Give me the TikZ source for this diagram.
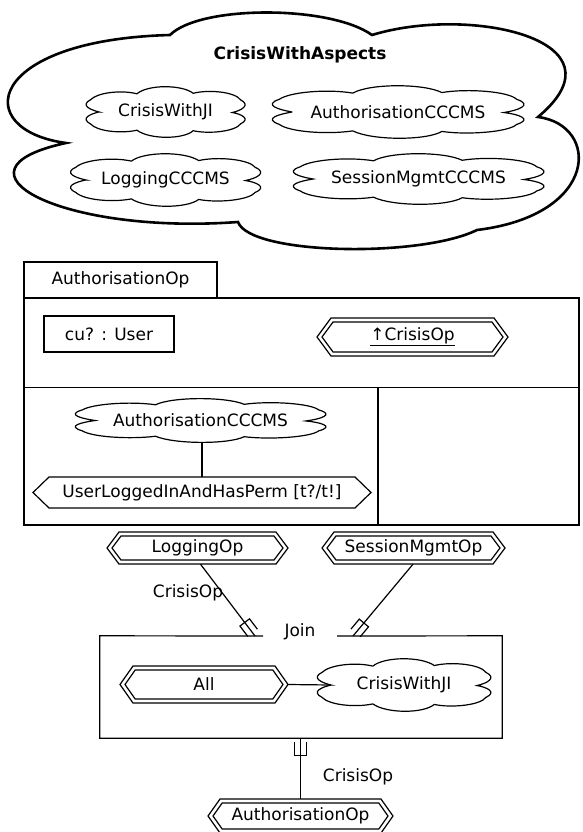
\documentclass[tikz,border=0pt]{standalone}
\usepackage{fontspec}
\setmainfont{DejaVu Sans}
\usetikzlibrary{calc}

% cloud outline around a named node: node, half width, half height
\newcommand\cloudat[3]{\draw[cloudline,shift={(#1.center)},xscale=#2,yscale=#3]
 (-0.82,0) .. controls (-0.92,0.08) and (-1.05,0.24) .. (-0.92,0.46)
 .. controls (-0.84,0.74) and (-0.55,0.84) .. (-0.35,0.7)
 .. controls (-0.2,1.06) and (0.22,1.06) .. (0.34,0.72)
 .. controls (0.54,0.86) and (0.86,0.74) .. (0.92,0.46)
 .. controls (1.05,0.26) and (0.93,0.08) .. (0.82,0.02)
 .. controls (0.93,-0.06) and (1.05,-0.26) .. (0.92,-0.47)
 .. controls (0.86,-0.76) and (0.54,-0.88) .. (0.34,-0.72)
 .. controls (0.2,-1.06) and (-0.22,-1.06) .. (-0.35,-0.7)
 .. controls (-0.55,-0.86) and (-0.84,-0.74) .. (-0.92,-0.47)
 .. controls (-1.05,-0.26) and (-0.92,-0.08) .. cycle;}

% pointed hexagon around a named node: node, half width, half height, point depth
\newcommand\hexat[4]{\draw[frame,shift={(#1.center)}]
 (-#2,0) -- (-#2+#4,-#3) -- (#2-#4,-#3) -- (#2,0) -- (#2-#4,#3) -- (-#2+#4,#3) -- cycle;}

% double-lined hexagon
\newcommand\dhexat[4]{\hexat{#1}{#2}{#3}{#4}%
 \pgfmathsetmacro\hexihw{#2-5}\pgfmathsetmacro\hexihh{#3-4}\pgfmathsetmacro\hexid{#4*(#3-4)/#3}%
 \hexat{#1}{\hexihw}{\hexihh}{\hexid}}

% cup mark at the end #1 of a connector coming from #2
\newcommand\cupat[2]{\draw[edge]
 ($(#1)!4pt!(#2)!6pt!90:(#2)$) -- ($(#1)!17pt!(#2)!6pt!90:(#2)$)
 -- ($(#1)!17pt!(#2)!6pt!-90:(#2)$) -- ($(#1)!4pt!(#2)!6pt!-90:(#2)$);}

\begin{document}
\begin{tikzpicture}[x=1pt,y=-1pt,line join=miter,
  every node/.style={font=\fontsize{17}{20}\selectfont,inner sep=0pt},
  edge/.style={line width=1.2pt},
  frame/.style={line width=1.2pt},
  cloudline/.style={line width=1.2pt},
  bigcloud/.style={line width=2.6pt}]
\fill[white] (0,0) rectangle (582,832);
\useasboundingbox (0,0) rectangle (582,832);

% ---------- schema cloud with its aspects ----------
\draw[bigcloud] (66,143) .. controls (-30,130) and (-15,40) .. (170,35)
 .. controls (200,5) and (330,5) .. (372,35)
 .. controls (470,5) and (630,40) .. (538,117)
 .. controls (600,125) and (600,215) .. (477,230)
 .. controls (420,258) and (250,255) .. (238,222)
 .. controls (60,235) and (-60,170) .. cycle;
\node[font=\fontsize{17}{20}\selectfont\bfseries] (cwa) at (300,55) {CrisisWithAspects};

\node[minimum width=163,minimum height=52] (cji) at (165.5,112) {CrisisWithJI};
\cloudat{cji}{81.5}{26}
\node[minimum width=258,minimum height=54] (acc) at (398,112) {AuthorisationCCCMS};
\cloudat{acc}{129}{27}
\node[minimum width=195,minimum height=54] (lcc) at (165.5,180) {LoggingCCCMS};
\cloudat{lcc}{97.5}{27}
\node[minimum width=257,minimum height=52] (scc) at (418.5,179) {SessionMgmtCCCMS};
\cloudat{scc}{128.5}{26}

% ---------- AuthorisationOp operation box ----------
\node[draw,frame,minimum width=193,minimum height=36] (tab) at (120.5,280) {AuthorisationOp};
\node[draw,frame,minimum width=555,minimum height=227] (opbox) at (301.5,411.5) {};
\coordinate (divl) at ($(opbox.north west)+(0,90)$);
\coordinate (divr) at ($(opbox.north east)+(0,90)$);
\coordinate (divm) at (378,388);
\draw[frame] (divl) -- (divr);
\draw[frame] (divm) -- (divm |- opbox.south);

\node[draw,frame,minimum width=130,minimum height=36] (cu) at (109,334) {cu? : User};
\node[minimum width=191,minimum height=38] (crop) at (412.5,337) {\underline{↑CrisisOp}};
\dhexat{crop}{95.5}{19}{14}

\node[minimum width=257,minimum height=45] (acc2) at (200.5,420.5) {AuthorisationCCCMS};
\cloudat{acc2}{128.5}{22.5}
\node[minimum width=338,minimum height=31] (ulp) at (202,492.5) {UserLoggedInAndHasPerm [t?/t!]};
\hexat{ulp}{169}{15.5}{16}
\draw[edge] (acc2.south -| ulp.north) -- (ulp.north);

% ---------- join of operations ----------
\node[minimum width=181,minimum height=32] (lop) at (197.5,548) {LoggingOp};
\dhexat{lop}{90.5}{16}{12}
\node[minimum width=183,minimum height=32] (smo) at (413.5,548) {SessionMgmtOp};
\dhexat{smo}{91.5}{16}{12}

\node[minimum width=402,minimum height=102] (jbox) at (301,687) {};
\node (jlbl) at (300,632) {Join};
\coordinate (gl) at (263,636);
\coordinate (gr) at (337,636);
\draw[frame] (gl) -- (jbox.north west) -- (jbox.south west) -- (jbox.south east)
  -- (jbox.north east) -- (gr);

\coordinate (el) at (255,636);
\coordinate (er) at (353,636);
\coordinate (sl) at ([xshift=3pt]lop.south);
\coordinate (sr) at ([xshift=-0.5pt]smo.south);
\draw[edge] (sl) -- (el);
\cupat{el}{sl}
\draw[edge] (sr) -- (er);
\cupat{er}{sr}
\node (lbll) at (188,593) {CrisisOp};

\node[minimum width=168,minimum height=37] (allop) at (204,684.5) {All};
\dhexat{allop}{84}{18.5}{13}
\node[minimum width=178,minimum height=54] (cjj) at (404,685) {CrisisWithJI};
\cloudat{cjj}{89}{27}
\draw[edge] (allop.east) -- ([xshift=16pt]cjj.west);

\node[minimum width=185,minimum height=34] (aop) at (300.5,816) {AuthorisationOp};
\dhexat{aop}{92.5}{17}{12}
\coordinate (eb) at (jbox.south -| aop.north);
\draw[edge] (aop.north) -- (eb);
\cupat{eb}{aop.north}
\node (lblb) at (358,777) {CrisisOp};
\end{tikzpicture}
\end{document}
